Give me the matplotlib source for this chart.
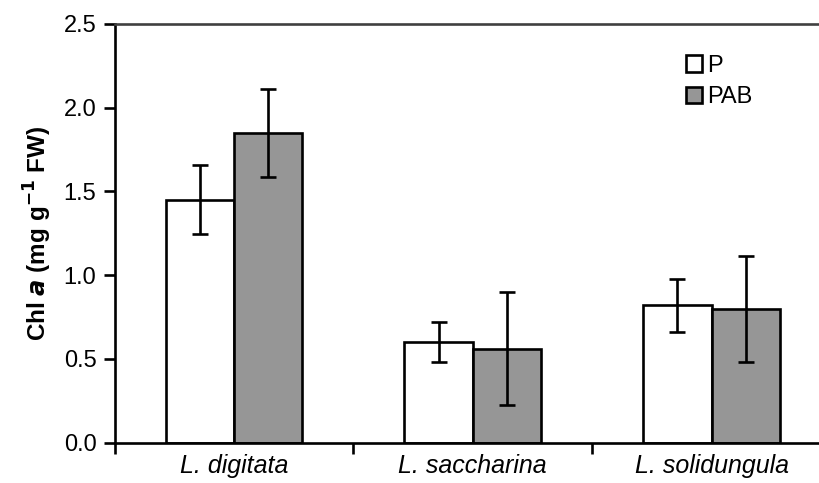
import numpy as np
import matplotlib
matplotlib.use('Agg')
import matplotlib.pyplot as plt

plt.rcParams['font.family'] = ['Liberation Sans', 'DejaVu Sans']

species = ['L. digitata', 'L. saccharina', 'L. solidungula']
series = ['P', 'PAB']
p_mean = [1.45, 0.60, 0.82]
p_err = [0.205, 0.118, 0.157]
pab_mean = [1.85, 0.56, 0.795]
pab_err = [0.262, 0.338, 0.317]

COLORS = ['white', '#969696']
LW = 1.9

fig = plt.figure(figsize=(8.19, 4.83), dpi=100)
# plot area runs past the right edge like in the cropped original
ax = fig.add_axes([114.5 / 819, 1 - 442.5 / 483, (831 - 114.5) / 819, (442.5 - 24) / 483])

x = np.arange(len(species))
w = 0.286
means = [p_mean, pab_mean]
errs = [p_err, pab_err]
for i in range(2):
    ax.bar(x + (i - 0.5) * w, means[i], w, yerr=errs[i], color=COLORS[i],
           edgecolor='black', linewidth=LW, label=series[i],
           error_kw=dict(ecolor='black', elinewidth=LW, capsize=6, capthick=LW))

ax.set_xlim(-0.5, 2.5)
ax.set_ylim(0, 2.5)
ax.set_yticks(np.arange(0, 2.51, 0.5))
ax.set_yticklabels(['%.1f' % v for v in np.arange(0, 2.51, 0.5)], fontsize=17)
ax.tick_params(axis='y', direction='out', length=8, width=LW, pad=5)

ax.set_xticks(np.arange(-0.5, 2.6, 1.0))
ax.set_xticklabels([])
ax.set_xticks(x, minor=True)
ax.set_xticklabels(species, minor=True, fontsize=18, style='italic')
ax.tick_params(axis='x', which='major', direction='out', length=8, width=LW)
ax.tick_params(axis='x', which='minor', length=0, pad=8)

for s in ['left', 'bottom']:
    ax.spines[s].set_linewidth(LW)
ax.spines['top'].set_color('#404040')
ax.spines['top'].set_linewidth(LW)
ax.spines['right'].set_visible(False)

ax.set_ylabel(r'Chl $\mathbfit{a}$ (mg g$^{\mathbf{-1}}$ FW)', fontsize=17.5, fontweight='bold', labelpad=7)

leg = ax.legend(loc='upper left', bbox_to_anchor=(674 / 819, 1 - 43 / 483),
                bbox_transform=fig.transFigure, frameon=False, fontsize=17,
                handlelength=0.7, handleheight=0.7, handletextpad=0.2,
                labelspacing=0.4, borderpad=0)
for h in leg.legend_handles:
    h.set_linewidth(LW)

fig.savefig('out.png', dpi=100)
